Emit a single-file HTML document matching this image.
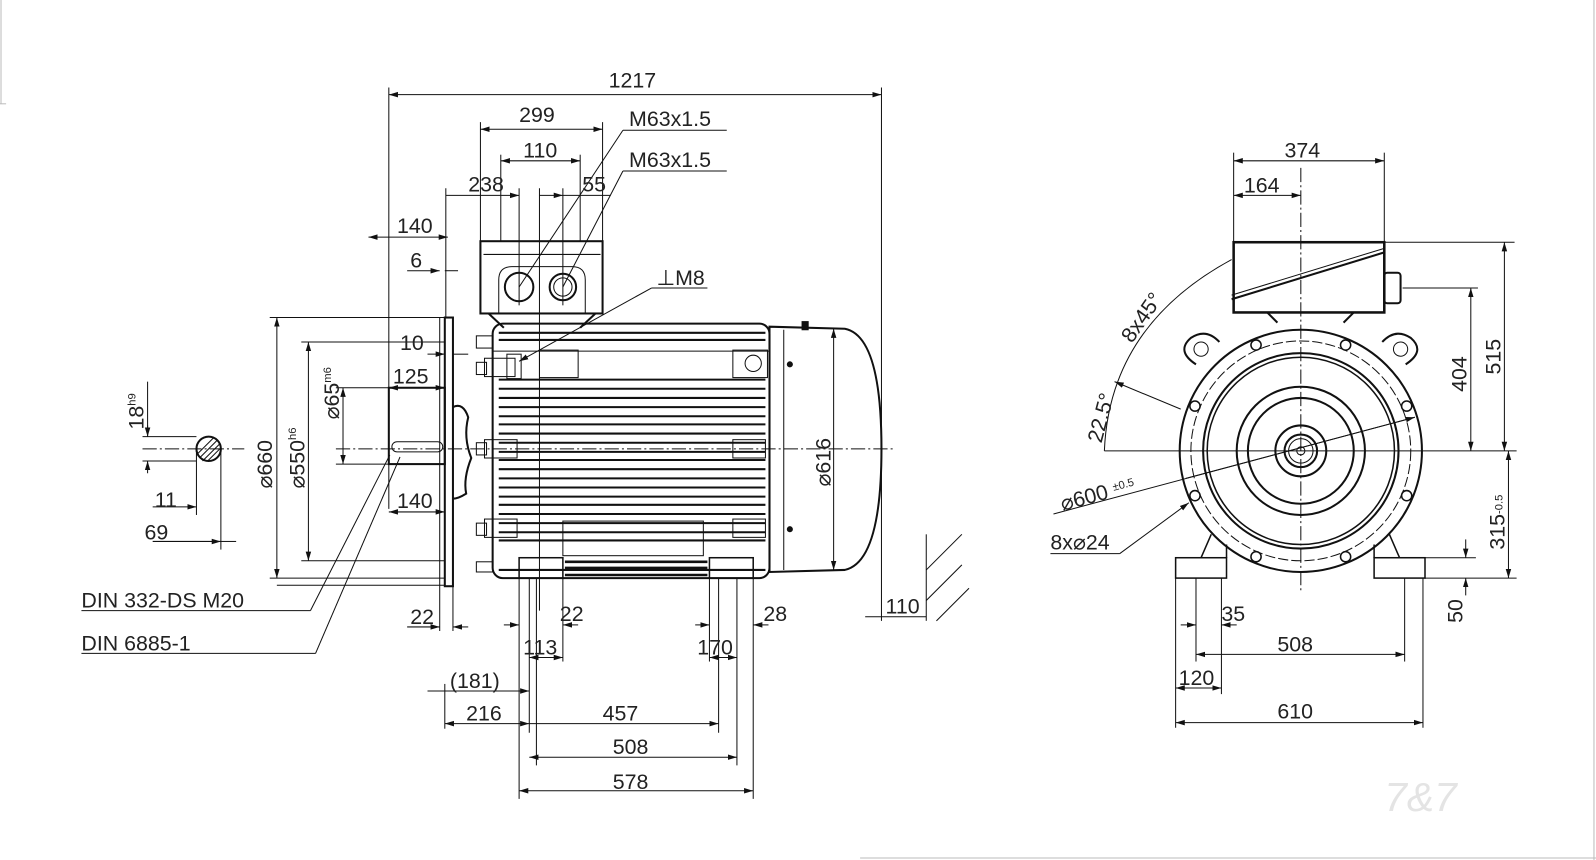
<!DOCTYPE html>
<html><head><meta charset="utf-8"><style>
html,body{margin:0;padding:0;background:#fff;}
svg{display:block;}
text{font-family:"Liberation Sans",sans-serif;font-size:21px;fill:#222;}
.s{font-size:11px;}
</style></head><body>
<svg width="1596" height="860" viewBox="0 0 1568 845" preserveAspectRatio="none" xmlns="http://www.w3.org/2000/svg">
<defs>
<marker id="a" viewBox="0 0 10 10" refX="10" refY="5" markerWidth="9" markerHeight="9" orient="auto-start-reverse" markerUnits="userSpaceOnUse"><path d="M0,2 L10,5 L0,8z" fill="#111"/></marker>
</defs>
<g stroke="#bbb" stroke-width="1" fill="none">
<line x1="1" y1="0" x2="1" y2="102"/><line x1="0" y1="102" x2="6" y2="102"/>
<line x1="1566" y1="0" x2="1566" y2="845"/><line x1="845" y1="843" x2="1568" y2="843"/>
</g>
<g stroke="#111" stroke-width="1" fill="none">
<!-- dimension lines side view -->
<line x1="382" y1="93" x2="866" y2="93" marker-start="url(#a)" marker-end="url(#a)"/>
<line x1="382" y1="86" x2="382" y2="500"/><line x1="866" y1="86" x2="866" y2="610"/>
<line x1="472" y1="127" x2="592" y2="127" marker-start="url(#a)" marker-end="url(#a)"/>
<line x1="472" y1="120" x2="472" y2="237"/><line x1="592" y1="120" x2="592" y2="237"/>
<line x1="492" y1="158" x2="570" y2="158" marker-start="url(#a)" marker-end="url(#a)"/>
<line x1="492" y1="152" x2="492" y2="237"/><line x1="570" y1="152" x2="570" y2="237"/>
<line x1="438" y1="192" x2="510" y2="192" marker-end="url(#a)"/>
<line x1="438" y1="185" x2="438" y2="312"/><line x1="510" y1="185" x2="510" y2="300"/>
<line x1="530" y1="192" x2="553" y2="192" marker-end="url(#a)"/><line x1="530" y1="185" x2="530" y2="600"/>
<line x1="553" y1="192" x2="600" y2="192"/><line x1="553" y1="185" x2="553" y2="300"/>
<line x1="612" y1="128" x2="714" y2="128"/><line x1="612" y1="128" x2="510" y2="282"/>
<line x1="612" y1="168" x2="714" y2="168"/><line x1="612" y1="168" x2="553" y2="282"/>
<line x1="362" y1="233" x2="440" y2="233" marker-start="url(#a)" marker-end="url(#a)"/>
<line x1="400" y1="266" x2="432" y2="266" marker-end="url(#a)"/><line x1="437" y1="266" x2="450" y2="266"/>
<line x1="420" y1="348" x2="437" y2="348" marker-end="url(#a)"/><line x1="445" y1="348" x2="460" y2="348"/>
<line x1="382" y1="381" x2="437" y2="381" marker-start="url(#a)" marker-end="url(#a)"/>
<line x1="382" y1="503" x2="437" y2="503" marker-start="url(#a)" marker-end="url(#a)"/>
<line x1="640" y1="283" x2="695" y2="283"/><line x1="640" y1="283" x2="510" y2="355" marker-end="url(#a)"/>
<!-- vertical diameters -->
<line x1="272" y1="312" x2="272" y2="568" marker-start="url(#a)" marker-end="url(#a)"/>
<line x1="265" y1="312" x2="437" y2="312"/><line x1="265" y1="568" x2="437" y2="568"/>
<line x1="303" y1="336" x2="303" y2="551" marker-start="url(#a)" marker-end="url(#a)"/>
<line x1="296" y1="336" x2="437" y2="336"/><line x1="296" y1="551" x2="437" y2="551"/>
<line x1="337" y1="381" x2="337" y2="456" marker-start="url(#a)" marker-end="url(#a)"/>
<line x1="330" y1="381" x2="382" y2="381"/><line x1="330" y1="456" x2="382" y2="456"/>
<line x1="272" y1="575" x2="437" y2="575"/>
<!-- shaft section -->
<circle cx="205" cy="441" r="12" stroke-width="2"/>
<line x1="196" y1="450" x2="214" y2="432"/><line x1="199" y1="453" x2="216" y2="436"/><line x1="194" y1="446" x2="210" y2="430"/><line x1="204" y1="453" x2="217" y2="440"/>
<line x1="145" y1="375" x2="145" y2="429" /><line x1="140" y1="429" x2="193" y2="429"/><line x1="140" y1="453" x2="193" y2="453"/>
<line x1="145" y1="418" x2="145" y2="429" marker-end="url(#a)"/><line x1="145" y1="465" x2="145" y2="453" marker-end="url(#a)"/>
<line x1="193" y1="441" x2="193" y2="506"/><line x1="217" y1="441" x2="217" y2="540"/>
<line x1="150" y1="498" x2="193" y2="498" marker-end="url(#a)"/><line x1="150" y1="532" x2="217" y2="532" marker-end="url(#a)"/><line x1="217" y1="532" x2="232" y2="532"/>
<line x1="140" y1="441" x2="240" y2="441" stroke-dasharray="14 3 2 3"/>
<!-- DIN labels -->
<line x1="80" y1="600" x2="305" y2="600"/><line x1="305" y1="600" x2="383" y2="447"/>
<line x1="80" y1="642" x2="310" y2="642"/><line x1="310" y1="642" x2="393" y2="449"/>
<!-- flange -->
<rect x="437" y="312" width="8" height="264" stroke-width="2"/>
<line x1="432" y1="312" x2="432" y2="620"/>
<path d="M445 400 Q455 395 460 410 Q455 430 463 450 Q455 470 458 485 Q450 490 445 490" stroke-width="2"/>
<!-- shaft -->
<rect x="382" y="381" width="55" height="75" stroke-width="2"/>
<rect x="385" y="434" width="50" height="10" rx="5"/>
<line x1="330" y1="441" x2="880" y2="441" stroke-dasharray="14 3 2 3"/>
<!-- terminal box -->
<rect x="472" y="237" width="120" height="71" stroke-width="2"/>
<line x1="475" y1="250" x2="590" y2="250"/>
<path d="M490 308 L490 275 Q490 262 503 262 L562 262 Q575 262 575 275 L575 308"/>
<circle cx="510" cy="282" r="14" stroke-width="2"/><circle cx="553" cy="282" r="13" stroke-width="2"/><circle cx="553" cy="282" r="9"/>
<path d="M480 308 L495 322 M585 308 L570 322" stroke-width="2"/>
<!-- motor body -->
<rect x="484" y="318" width="272" height="250" rx="10" stroke-width="2"/>
<line x1="484" y1="345" x2="756" y2="345"/>
<g stroke-width="2">
<line x1="490" y1="327" x2="752" y2="327"/><line x1="490" y1="334" x2="752" y2="334"/>
<line x1="490" y1="373" x2="752" y2="373"/><line x1="490" y1="382" x2="752" y2="382"/><line x1="490" y1="391" x2="752" y2="391"/><line x1="490" y1="400" x2="752" y2="400"/><line x1="490" y1="409" x2="752" y2="409"/><line x1="490" y1="417" x2="752" y2="417"/><line x1="490" y1="426" x2="752" y2="426"/><line x1="490" y1="435" x2="752" y2="435"/><line x1="490" y1="444" x2="752" y2="444"/><line x1="490" y1="452" x2="752" y2="452"/><line x1="490" y1="461" x2="752" y2="461"/><line x1="490" y1="470" x2="752" y2="470"/><line x1="490" y1="479" x2="752" y2="479"/><line x1="490" y1="488" x2="752" y2="488"/><line x1="490" y1="496" x2="752" y2="496"/><line x1="490" y1="505" x2="752" y2="505"/><line x1="490" y1="514" x2="752" y2="514"/><line x1="490" y1="523" x2="752" y2="523"/><line x1="490" y1="531" x2="752" y2="531"/>
<line x1="490" y1="560" x2="752" y2="560"/>
</g>
<rect x="530" y="344" width="38" height="27"/><rect x="720" y="344" width="34" height="27"/><circle cx="740" cy="357" r="8"/>
<rect x="553" y="512" width="138" height="34"/>
<rect x="476" y="352" width="30" height="18"/><rect x="476" y="432" width="32" height="18"/><rect x="476" y="510" width="32" height="18"/>
<rect x="720" y="432" width="32" height="18"/><rect x="720" y="510" width="32" height="18"/>
<rect x="468" y="330" width="16" height="12"/><rect x="468" y="356" width="10" height="12"/><rect x="468" y="435" width="10" height="12"/><rect x="468" y="514" width="10" height="12"/><rect x="468" y="552" width="16" height="10"/>
<rect x="498" y="348" width="14" height="24"/>
<!-- feet -->
<rect x="510" y="548" width="43" height="20" stroke-width="1.5"/><rect x="697" y="548" width="43" height="20" stroke-width="1.5"/>
<g stroke-width="2.5"><line x1="555" y1="552" x2="695" y2="552"/><line x1="555" y1="558" x2="695" y2="558"/><line x1="555" y1="565" x2="695" y2="565"/></g>
<!-- fan cover -->
<path d="M756 321 L830 323 Q866 330 866 441 Q866 552 830 560 L756 562 Z" stroke-width="2"/>
<line x1="770" y1="324" x2="770" y2="560"/><rect x="788" y="316" width="6" height="8" fill="#111"/>
<circle cx="776" cy="358" r="2.5" fill="#111"/><circle cx="776" cy="520" r="2.5" fill="#111"/>
<line x1="819" y1="323" x2="819" y2="560" marker-start="url(#a)" marker-end="url(#a)"/>
<!-- bottom dims -->
<line x1="510" y1="568" x2="510" y2="785"/><line x1="553" y1="568" x2="553" y2="650"/><line x1="520" y1="568" x2="520" y2="720"/><line x1="697" y1="568" x2="697" y2="650"/><line x1="740" y1="568" x2="740" y2="785"/>
<line x1="706" y1="568" x2="706" y2="720"/><line x1="724" y1="568" x2="724" y2="752"/><line x1="527" y1="568" x2="527" y2="752"/>
<line x1="400" y1="616" x2="432" y2="616" marker-end="url(#a)"/><line x1="460" y1="616" x2="445" y2="616" marker-end="url(#a)"/><line x1="445" y1="576" x2="445" y2="620"/>
<line x1="495" y1="614" x2="510" y2="614" marker-end="url(#a)"/><line x1="568" y1="614" x2="553" y2="614" marker-end="url(#a)"/>
<line x1="520" y1="646" x2="553" y2="646" marker-start="url(#a)" marker-end="url(#a)"/>
<line x1="697" y1="646" x2="724" y2="646" marker-start="url(#a)" marker-end="url(#a)"/>
<line x1="683" y1="614" x2="697" y2="614" marker-end="url(#a)"/><line x1="755" y1="614" x2="740" y2="614" marker-end="url(#a)"/>
<line x1="420" y1="679" x2="520" y2="679" marker-end="url(#a)"/><line x1="437" y1="672" x2="437" y2="716"/>
<line x1="437" y1="711" x2="520" y2="711" marker-start="url(#a)" marker-end="url(#a)"/>
<line x1="520" y1="711" x2="706" y2="711" marker-end="url(#a)"/>
<line x1="520" y1="744" x2="724" y2="744" marker-start="url(#a)" marker-end="url(#a)"/>
<line x1="510" y1="777" x2="740" y2="777" marker-start="url(#a)" marker-end="url(#a)"/>
<line x1="850" y1="606" x2="910" y2="606"/><line x1="866" y1="606" x2="866" y2="606"/>
<line x1="910" y1="525" x2="910" y2="610"/>
<line x1="910" y1="560" x2="945" y2="525"/><line x1="910" y1="590" x2="945" y2="555"/><line x1="920" y1="610" x2="952" y2="578"/>
<!-- front view -->
<line x1="1278" y1="165" x2="1278" y2="580" stroke-dasharray="14 3 2 3"/>
<line x1="1085" y1="443" x2="1490" y2="443"/>
<line x1="1212" y1="158" x2="1360" y2="158" marker-start="url(#a)" marker-end="url(#a)"/>
<line x1="1212" y1="150" x2="1212" y2="238"/><line x1="1360" y1="150" x2="1360" y2="238"/>
<line x1="1212" y1="192" x2="1278" y2="192" marker-start="url(#a)" marker-end="url(#a)"/>
<rect x="1212" y="238" width="148" height="69" stroke-width="2.5"/>
<line x1="1210" y1="294" x2="1360" y2="248" stroke-width="2"/><line x1="1210" y1="290" x2="1360" y2="244"/>
<rect x="1360" y="268" width="16" height="30" rx="3" stroke-width="2"/>
<path d="M1245 307 L1255 317 M1330 307 L1320 317" stroke-width="2"/>
<circle cx="1278" cy="443" r="119" stroke-width="2"/>
<circle cx="1278" cy="443" r="108" stroke-dasharray="10 3"/>
<circle cx="1278" cy="443" r="96" stroke-width="2"/><circle cx="1278" cy="443" r="92" stroke-width="1.5"/>
<circle cx="1278" cy="443" r="63" stroke-width="2"/><circle cx="1278" cy="443" r="52" stroke-width="2"/>
<circle cx="1278" cy="443" r="25" stroke-width="2"/><circle cx="1278" cy="443" r="16" stroke-width="2"/><circle cx="1278" cy="443" r="12"/><circle cx="1278" cy="443" r="4"/>
<g stroke-width="1.5">
<circle cx="1234" cy="339" r="5"/><circle cx="1322" cy="339" r="5"/><circle cx="1382" cy="399" r="5"/><circle cx="1382" cy="487" r="5"/>
<circle cx="1322" cy="547" r="5"/><circle cx="1234" cy="547" r="5"/><circle cx="1174" cy="487" r="5"/><circle cx="1174" cy="399" r="5"/>
</g>
<path d="M1175 358 Q1155 345 1170 332 Q1185 322 1198 336" stroke-width="2"/><circle cx="1180" cy="343" r="7"/>
<path d="M1381 358 Q1401 345 1386 332 Q1371 322 1358 336" stroke-width="2"/><circle cx="1376" cy="343" r="7"/>
<rect x="1155" y="548" width="50" height="20" stroke-width="1.5"/><rect x="1350" y="548" width="50" height="20" stroke-width="1.5"/>
<path d="M1180 548 L1190 525 M1205 548 L1205 535 M1375 548 L1365 525 M1350 548 L1350 535" stroke-width="1.5"/>
<line x1="1155" y1="568" x2="1155" y2="715"/><line x1="1175" y1="568" x2="1175" y2="650"/><line x1="1200" y1="568" x2="1200" y2="682"/><line x1="1380" y1="568" x2="1380" y2="650"/><line x1="1398" y1="568" x2="1398" y2="715"/>
<line x1="1160" y1="614" x2="1175" y2="614" marker-end="url(#a)"/><line x1="1215" y1="614" x2="1200" y2="614" marker-end="url(#a)"/>
<line x1="1175" y1="643" x2="1380" y2="643" marker-start="url(#a)" marker-end="url(#a)"/>
<line x1="1155" y1="676" x2="1200" y2="676" marker-start="url(#a)" marker-end="url(#a)"/>
<line x1="1155" y1="710" x2="1398" y2="710" marker-start="url(#a)" marker-end="url(#a)"/>
<line x1="1360" y1="238" x2="1488" y2="238"/><line x1="1378" y1="283" x2="1452" y2="283"/>
<line x1="1478" y1="238" x2="1478" y2="443" marker-start="url(#a)" marker-end="url(#a)"/>
<line x1="1445" y1="283" x2="1445" y2="443" marker-start="url(#a)" marker-end="url(#a)"/>
<line x1="1482" y1="443" x2="1482" y2="568" marker-start="url(#a)" marker-end="url(#a)"/>
<line x1="1400" y1="568" x2="1490" y2="568"/><line x1="1400" y1="548" x2="1450" y2="548"/>
<line x1="1440" y1="530" x2="1440" y2="548" marker-end="url(#a)"/><line x1="1440" y1="585" x2="1440" y2="568" marker-end="url(#a)"/>
<path d="M1085 443 Q1090 320 1210 255"/>
<line x1="1095" y1="375" x2="1160" y2="402" marker-start="url(#a)"/>
<line x1="1035" y1="505" x2="1390" y2="410"/><line x1="1165" y1="470" x2="1390" y2="410" marker-end="url(#a)"/>
<line x1="1032" y1="544" x2="1100" y2="544"/><line x1="1100" y1="544" x2="1168" y2="494" marker-end="url(#a)"/>
</g>
<g>
<text x="598" y="86">1217</text>
<text x="510" y="120">299</text>
<text x="514" y="155">110</text>
<text x="460" y="188">238</text>
<text x="572" y="188">55</text>
<text x="618" y="124">M63x1.5</text>
<text x="618" y="164">M63x1.5</text>
<text x="390" y="229">140</text>
<text x="403" y="263">6</text>
<text x="645" y="280">⊥M8</text>
<text x="393" y="344">10</text>
<text x="386" y="377">125</text>
<text x="390" y="499">140</text>
<text x="80" y="597">DIN 332-DS M20</text>
<text x="80" y="639">DIN 6885-1</text>
<text x="403" y="613">22</text>
<text x="550" y="610">22</text>
<text x="750" y="610">28</text>
<text x="514" y="643">113</text>
<text x="685" y="643">170</text>
<text x="442" y="676">(181)</text>
<text x="458" y="708">216</text>
<text x="592" y="708">457</text>
<text x="602" y="741">508</text>
<text x="602" y="775">578</text>
<text x="870" y="603">110</text>
<text x="152" y="498">11</text>
<text x="142" y="530">69</text>
<text transform="translate(141,422) rotate(-90)">18<tspan class="s" dy="-8">h9</tspan></text>
<text transform="translate(267,480) rotate(-90)">⌀660</text>
<text transform="translate(299,480) rotate(-90)">⌀550<tspan class="s" dy="-8">h6</tspan></text>
<text transform="translate(333,412) rotate(-90)">⌀65<tspan class="s" dy="-8">m6</tspan></text>
<text transform="translate(816,478) rotate(-90)">⌀616</text>
<text x="1262" y="155">374</text>
<text x="1222" y="189">164</text>
<text transform="translate(1474,368) rotate(-90)">515</text>
<text transform="translate(1441,385) rotate(-90)">404</text>
<text transform="translate(1478,540) rotate(-90)">315<tspan class="s" dy="-2">-0.5</tspan></text>
<text transform="translate(1437,612) rotate(-90)">50</text>
<text x="1200" y="610">35</text>
<text x="1255" y="640">508</text>
<text x="1158" y="673">120</text>
<text x="1255" y="706">610</text>
<text x="1032" y="540">8x⌀24</text>
<text transform="translate(1044,502) rotate(-15)">⌀600 <tspan class="s" dy="-6">±0.5</tspan></text>
<text transform="translate(1112,338) rotate(-55)">8x45°</text>
<text transform="translate(1082,436) rotate(-75)">22.5°</text>
<text x="1360" y="797" style="font-size:40px;fill:#e4e4e4;font-style:italic">7&amp;7</text>
</g>
</svg>
</body></html>
